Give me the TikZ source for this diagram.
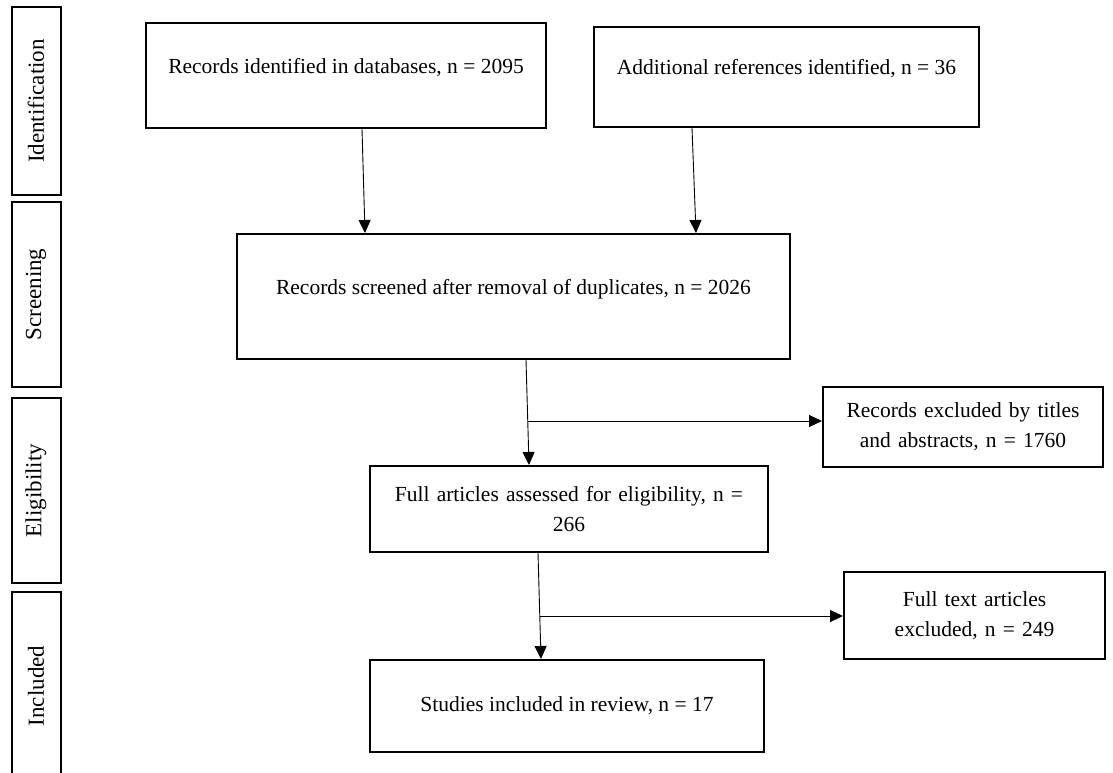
\documentclass[tikz,border=0pt]{standalone}
\usepackage{fontspec}
\setmainfont{Liberation Serif}
\usetikzlibrary{arrows.meta,positioning,calc}

\begin{document}
\begin{tikzpicture}[x=1pt,y=-1pt,
  font=\fontsize{21.5}{30}\selectfont,
  box/.style={draw,line width=2pt,align=center,inner sep=2pt},
  raised/.style={text depth=20pt},
  phase/.style={box,rotate=90,minimum width=188,minimum height=49,font=\fontsize{23}{28}\selectfont},
  arr/.style={-{Triangle[length=13pt,width=12pt]},line width=0.9pt}
  ]
  \useasboundingbox (0,0) rectangle (1113,773);
  % Phase labels on the left
  \node[phase] (ident) at (36,101) {Identification};
  \node[phase,minimum width=185] (screen) at (36,294.5) {Screening};
  \node[phase,minimum width=185] (elig) at (36,490.5) {Eligibility};
  \node[phase] (incl) at (36,686) {Included};

  % Boxes of the flow
  \node[box,raised,minimum width=400,minimum height=105] (db) at (346,75.5) {Records identified in databases, n = 2095};
  \node[box,raised,minimum width=385,minimum height=100] (add) at (786.5,77) {Additional references identified, n = 36};
  \node[box,raised,minimum width=553,minimum height=125] (scr) at (513.5,296.5) {Records screened after removal of duplicates, n = 2026};
  \node[box,minimum width=280,minimum height=80,text width=270] (excl1) at (963,427) {Records excluded by titles\\and abstracts, n = 1760};
  \node[box,minimum width=398,minimum height=86,text width=390] (full) at (569,509) {Full articles assessed for eligibility, n =\\266};
  \node[box,minimum width=261,minimum height=87,text width=250] (excl2) at (974.5,615.5) {Full text articles\\excluded, n = 249};
  \node[box,minimum width=394,minimum height=92] (incl) at (567,706) {Studies included in review, n = 17};

  % Connectors
  \draw[arr] ([xshift=16]db.south) -- ([xshift=-148.5]scr.north);
  \draw[arr] ([xshift=-94.5]add.south) -- ([xshift=182.5]scr.north);
  \draw[arr] ([xshift=12.5]scr.south) -- ([xshift=-40]full.north);
  \coordinate (j1) at (528,421);
  \draw[arr] (j1) -- (j1 -| excl1.west);
  \draw[arr] ([xshift=-31]full.south) -- ([xshift=-26]incl.north);
  \coordinate (j2) at (539.5,616);
  \draw[arr] (j2) -- (j2 -| excl2.west);
\end{tikzpicture}
\end{document}
